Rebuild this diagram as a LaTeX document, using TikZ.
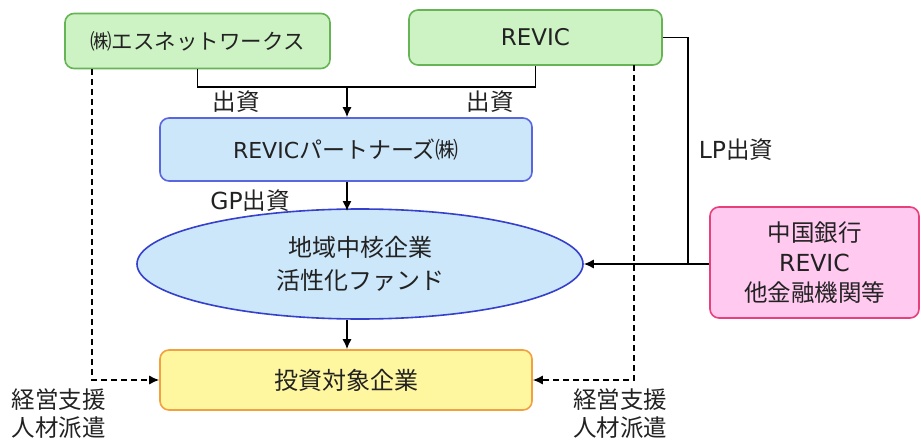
\documentclass[tikz,border=0pt]{standalone}
\usepackage{fontspec}
\setmainfont{Noto Sans CJK JP}
\newfontfamily\latf{DejaVu Sans}
\usetikzlibrary{arrows.meta,shapes.geometric}
\definecolor{gfill}{HTML}{CDF3C4}
\definecolor{gdraw}{HTML}{66B455}
\definecolor{bfill}{HTML}{CCE6FA}
\definecolor{bdraw}{HTML}{5A66E0}
\definecolor{edraw}{HTML}{3540CC}
\definecolor{yfill}{HTML}{FFF6A0}
\definecolor{ydraw}{HTML}{F2A040}
\definecolor{pfill}{HTML}{FFC9F0}
\definecolor{pdraw}{HTML}{E8407A}
\definecolor{txt}{HTML}{222222}
\tikzset{
  box/.style={draw, line width=1.6pt, rounded corners=9pt, inner sep=0pt, align=center, text=txt, font=\fontsize{23}{27}\selectfont},
  gbox/.style={box, fill=gfill, draw=gdraw},
  bbox/.style={box, fill=bfill, draw=bdraw},
  ybox/.style={box, fill=yfill, draw=ydraw, font=\fontsize{24}{28}\selectfont},
  pbox/.style={box, fill=pfill, draw=pdraw, font=\fontsize{23.5}{30}\selectfont},
  lbl/.style={text=txt, align=center, font=\fontsize{23.5}{28}\selectfont, inner sep=0pt},
  conn/.style={line width=1.3pt, black},
  arr/.style={conn, -{Latex[length=10pt,width=9pt]}},
  darr/.style={conn, dashed, dash pattern=on 6pt off 4pt, -{Latex[length=10pt,width=9pt]}},
}
\begin{document}
\begin{tikzpicture}[x=1pt,y=-1pt]
\useasboundingbox (0,0) rectangle (921,441);
\node[gbox, minimum width=265pt, minimum height=55pt, font=\fontsize{21.5}{25}\selectfont] (esn) at (197.5,41) {㈱エスネットワークス};
\node[gbox, minimum width=253pt, minimum height=55pt] (revic) at (535.5,37.5) {\latf REVIC};
\node[bbox, minimum width=372pt, minimum height=63pt] (rp) at (346,149.5) {{\latf\fontsize{22}{27}\selectfont REVIC}パートナーズ㈱};
\node[ellipse, draw=edraw, fill=bfill, line width=1.6pt, minimum width=446pt, minimum height=110pt, inner sep=0pt, align=center, text=txt, font=\fontsize{24}{33}\selectfont] (fund) at (360,264) {地域中核企業\\活性化ファンド};
\node[ybox, minimum width=372pt, minimum height=60pt] (tgt) at (346,380) {投資対象企業};
\node[pbox, minimum width=209pt, minimum height=111pt] (bank) at (814.5,262.5) {中国銀行\\{\latf REVIC}\\他金融機関等};

\coordinate (j) at (347,87);
\coordinate (lp) at (688,264);
\coordinate (dl) at (92,69);
\coordinate (dr) at (634,65);

\draw[conn] (esn.south) |- (j) -| (revic.south);
\draw[arr] (j) -- (j |- rp.north);
\draw[arr] (j |- rp.south) -- (347,211);
\draw[arr] (j |- fund.south) -- (j |- tgt.north);
\draw[darr] (dl) |- (tgt.west);
\draw[darr] (dr) |- (tgt.east);
\draw[conn] (revic.east) -| (lp);
\draw[arr] (bank.west |- lp) -- (fund.east);

\node[lbl] (l1) at (236,102) {出資};
\node[lbl] (l2) at (490,102) {出資};
\node[lbl] (l3) at (250,201) {{\latf GP}出資};
\node[lbl] (l4) at (736,150) {{\latf LP}出資};
\node[lbl] (l5) at (59,414) {経営支援\\人材派遣};
\node[lbl] (l6) at (620,414) {経営支援\\人材派遣};
\end{tikzpicture}
\end{document}
